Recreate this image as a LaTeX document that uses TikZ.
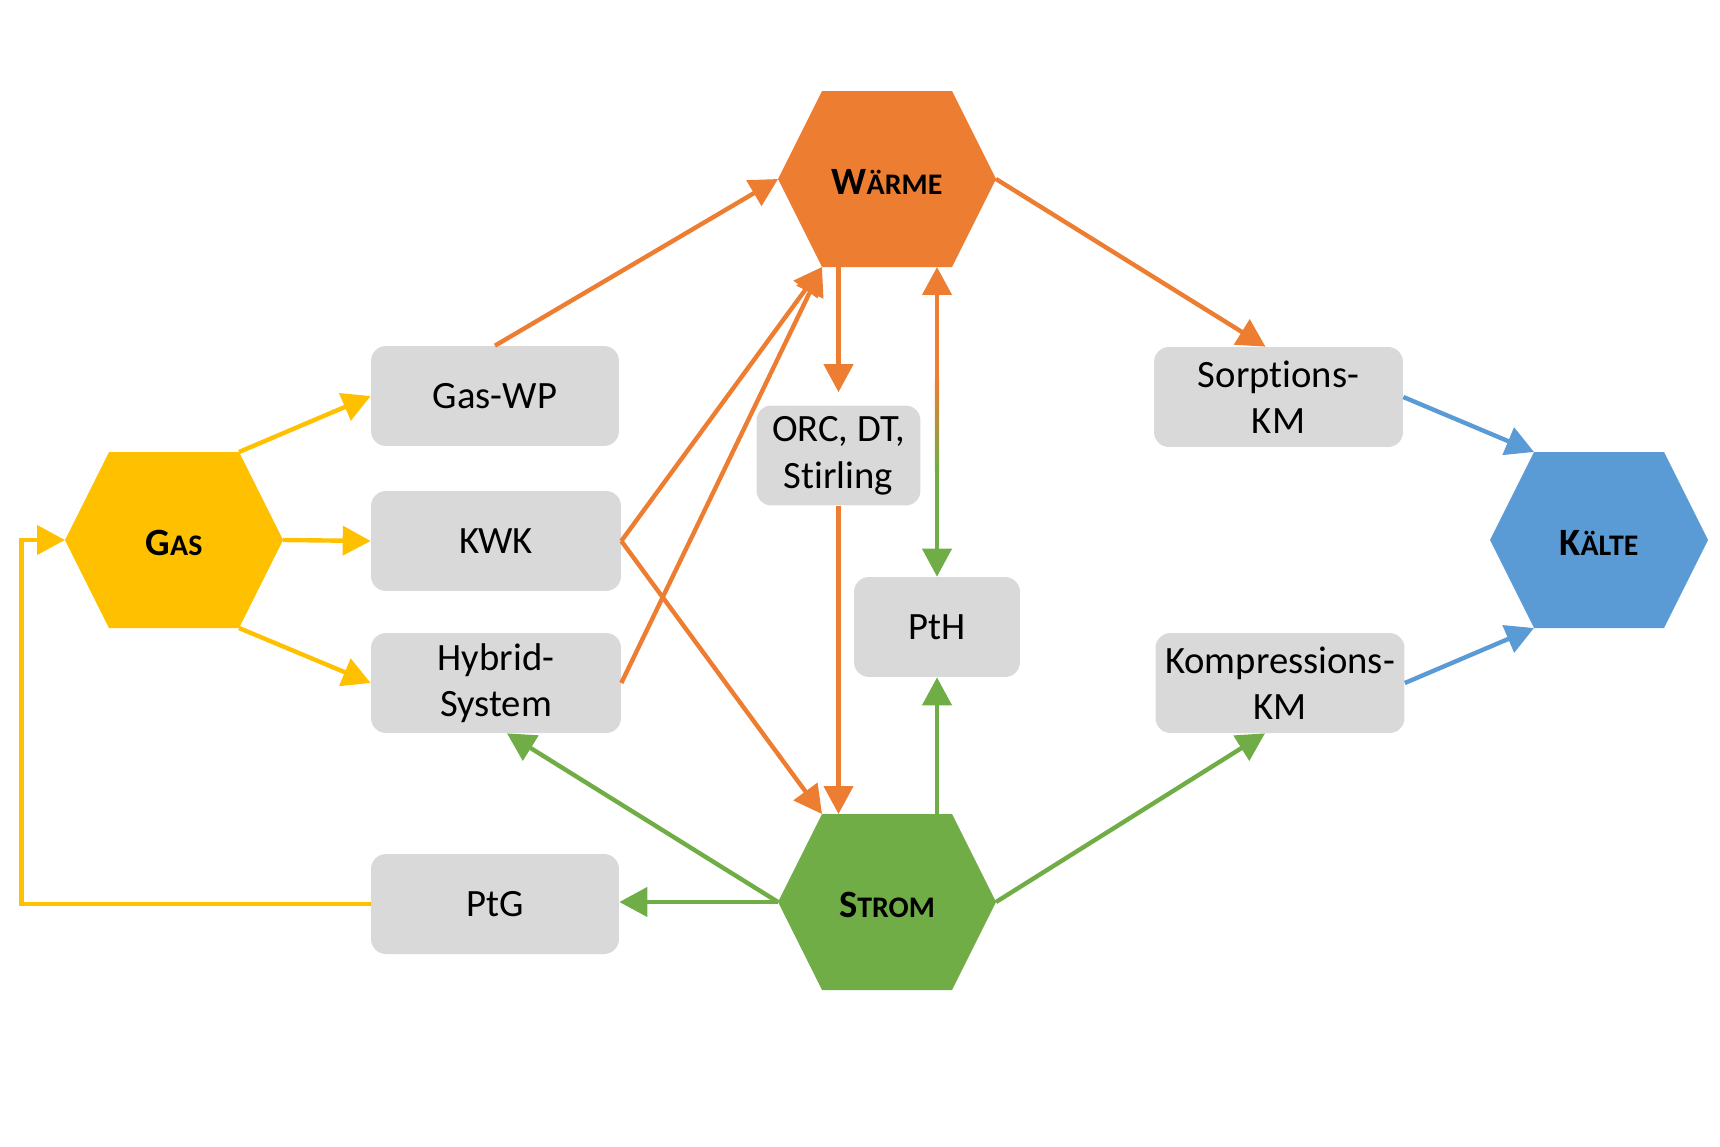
\documentclass[tikz,border=0pt]{standalone}
\usepackage{fontspec}
\setmainfont{Carlito}[Ligatures=NoCommon]
\usetikzlibrary{arrows.meta}
\definecolor{corange}{HTML}{ED7D31}
\definecolor{cyellow}{HTML}{FFC000}
\definecolor{cgreen}{HTML}{70AD47}
\definecolor{cblue}{HTML}{5B9BD5}
\definecolor{boxgray}{HTML}{D9D9D9}
\newcommand\hexa[5]{%
  \fill[#4] (#2-109,#3) -- (#2-65,#3-88) -- (#2+65,#3-88) -- (#2+109,#3)
     -- (#2+65,#3+88) -- (#2-65,#3+88) -- cycle;
  \node[hexlabel] (#1) at (#2,#3+3) {#5};
  \coordinate (#1-l) at (#2-109,#3);
  \coordinate (#1-r) at (#2+109,#3);
  \coordinate (#1-tl) at (#2-65,#3-88);
  \coordinate (#1-tr) at (#2+65,#3-88);
  \coordinate (#1-bl) at (#2-65,#3+88);
  \coordinate (#1-br) at (#2+65,#3+88);
}
\tikzset{
  box/.style={fill=boxgray, rounded corners=0.3cm, minimum width=4.96cm,
    minimum height=2cm, align=center, inner sep=0pt,
    font=\fontsize{22}{26.5}\selectfont},
  hexlabel/.style={inner sep=0pt, font=\fontsize{22}{26}\selectfont\bfseries},
  arr/.style={line width=2.5pt, -{Triangle[length=0.56cm,width=0.58cm]}},
  ln/.style={line width=2.5pt}
}
\newcommand\sm[1]{{\fontsize{17}{20}\selectfont #1}}
\begin{document}
\begin{tikzpicture}[x=0.02cm,y=-0.02cm]
\useasboundingbox (0,0) rectangle (1720,1146);
% hexagons
\hexa{W}{887}{179}{corange}{W\sm{ÄRME}}
\hexa{G}{174}{540}{cyellow}{G\sm{AS}}
\hexa{S}{887}{902}{cgreen}{S\sm{TROM}}
\hexa{K}{1599}{540}{cblue}{K\sm{ÄLTE}}
% boxes
\node[box] (GWP) at (495,396) {Gas-WP};
\node[box, minimum width=5cm] (KWK) at (496,541) {KWK};
\node[box, minimum width=5cm] (HYB) at (496,683) {Hybrid-\\System};
\node[box] (PTG) at (495,904) {PtG};
\node[box, minimum width=3.28cm] (ORC) at (838.5,455.5) {ORC, DT,\\Stirling};
\node[box, minimum width=3.32cm] (PTH) at (937,627) {PtH};
\node[box, minimum width=4.98cm] (SKM) at (1278.5,397) {Sorptions-\\KM};
\node[box, minimum width=4.98cm] (KKM) at (1280,683) {Kompressions-\\KM};
% yellow
\draw[arr, cyellow] (G-tr) -- (GWP.west);
\draw[arr, cyellow] (G-r) -- (KWK.west);
\draw[arr, cyellow] (G-br) -- (HYB.west);
\draw[arr, cyellow] (PTG.west) -- ++(-349,0) |- (G-l);
% orange
\draw[arr, corange] (GWP.north) -- (W-l);
\draw[arr, corange] (KWK.east) -- (W-bl);
\draw[arr, corange] (HYB.east) -- (W-bl);
\draw[arr, corange] (KWK.east) -- (S-tl);
\draw[arr, corange, shorten >=0.26cm] (ORC.north |- W-bl) -- (ORC.north);
\draw[arr, corange] (ORC.south) -- (ORC.south |- S-tl);
\draw[arr, corange] (W-r) -- ([xshift=-0.26cm]SKM.north);
% PtH double arrow with colour transition
\coordinate (m1) at (937,380);
\coordinate (m2) at (937,470);
\draw[arr, corange] (m1) -- (PTH.north |- W-bl);
\shade[top color=corange, bottom color=cgreen] (934.8,379) rectangle (939.2,471);
\draw[arr, cgreen] (m2) -- (PTH.north);
% green
\draw[arr, cgreen] (S-l) -- (S-l -| PTG.east);
\draw[arr, cgreen] (S-l) -- ([xshift=0.22cm]HYB.south);
\draw[arr, cgreen] (PTH.south |- S-tl) -- (PTH.south);
\draw[arr, cgreen] (S-r) -- ([xshift=-0.3cm]KKM.south);
% blue
\draw[arr, cblue] (SKM.east) -- (K-tl);
\draw[arr, cblue] (KKM.east) -- (K-bl);
\end{tikzpicture}
\end{document}
